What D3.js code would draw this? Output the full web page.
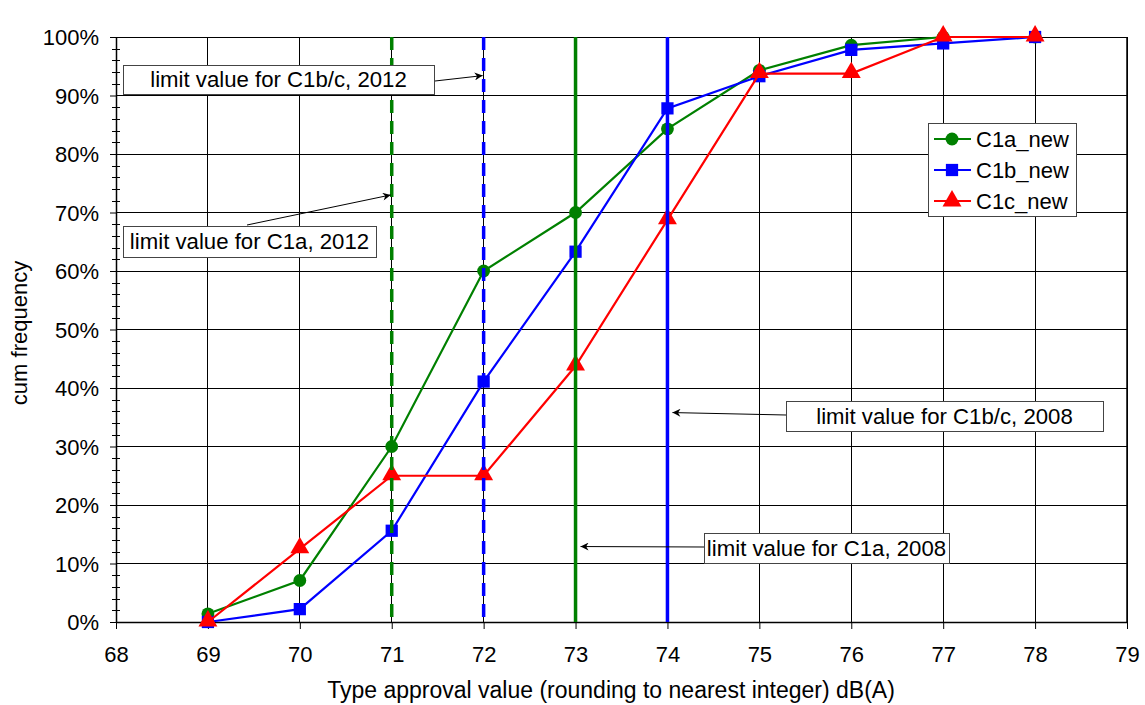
<!DOCTYPE html>
<html><head><meta charset="utf-8">
<script src="https://cdn.jsdelivr.net/npm/d3@7"></script>
<style>body{margin:0;background:#fff}svg{font-family:"Liberation Sans",Arial,sans-serif}</style>
</head><body><svg id="c" width="1145" height="705"></svg>
<script>
const xValues = [69,70,71,72,73,74,75,76,77,78];
const c1a = [1.4,7.1,30,60,70,84.3,94.3,98.6,100,100];
const c1b = [0,2.2,15.6,41.1,63.3,87.8,93.3,97.8,98.9,100];
const c1c = [0,12.5,25,25,43.75,68.75,93.75,93.75,100,100];
const seriesNames = ["C1a_new","C1b_new","C1c_new"];
const xTicks = [68,69,70,71,72,73,74,75,76,77,78,79];
const yTicks = [0,10,20,30,40,50,60,70,80,90,100];
const limitLines = [
  {x:71,color:"#008000",dash:true},
  {x:72,color:"#0000ff",dash:true},
  {x:73,color:"#008000",dash:false},
  {x:74,color:"#0000ff",dash:false}
];
const notes = [
  {text:"limit value for C1b/c, 2012", lx:72, ly:93.4, bx:123, by:65, bw:311, bh:29, ax:435, ay:81},
  {text:"limit value for C1a, 2012", lx:71, ly:73.0, bx:123, by:226, bw:253, bh:31, ax:247, ay:225},
  {text:"limit value for C1b/c, 2008", lx:74, ly:35.8, bx:786, by:401, bw:317, bh:30, ax:786, ay:415},
  {text:"limit value for C1a, 2008", lx:73, ly:12.9, bx:704, by:533, bw:245, bh:30, ax:704, ay:547}
];

const svg = d3.select("#c");
const L=116,R=1127,T=37,B=622;
const FS=22;
const x = d3.scaleLinear().domain([68,79]).range([L,R]);
const y = d3.scaleLinear().domain([0,100]).range([B,T]);

// gridlines
const g = svg.append("g").attr("shape-rendering","crispEdges");
g.selectAll(".vg").data(xTicks.slice(1)).enter().append("line")
  .attr("x1",d=>x(d)).attr("x2",d=>x(d)).attr("y1",T).attr("y2",B)
  .attr("stroke","#000").attr("stroke-width",1);
g.selectAll(".hg").data(yTicks.slice(1)).enter().append("line")
  .attr("x1",L).attr("x2",R).attr("y1",d=>y(d)).attr("y2",d=>y(d))
  .attr("stroke","#000").attr("stroke-width",1);

// axes
const xAxis = d3.axisBottom(x).tickValues(xTicks).tickSize(7).tickSizeOuter(0).tickPadding(17);
const xg = svg.append("g").attr("transform",`translate(0,${B})`).call(xAxis);
xg.select(".domain").attr("stroke","#000").attr("stroke-width",1.5);
xg.selectAll("text").attr("font-size",FS).attr("fill","#000").attr("font-family","Liberation Sans, Arial, sans-serif");

const yAxis = d3.axisLeft(y).tickValues(yTicks).tickFormat(d=>d+"%").tickSize(6).tickSizeOuter(0).tickPadding(11);
const yg = svg.append("g").attr("transform",`translate(${L},0)`).call(yAxis);
yg.select(".domain").attr("stroke","#000").attr("stroke-width",1.5);
yg.selectAll("text").attr("font-size",FS).attr("fill","#000").attr("font-family","Liberation Sans, Arial, sans-serif").attr("dy","0.36em");
// minor ticks
const minor = d3.range(0,101,2).filter(v=>v%10!==0);
svg.append("g").attr("shape-rendering","crispEdges").selectAll("line").data(minor).enter().append("line")
  .attr("x1",L-4).attr("x2",L+4).attr("y1",d=>Math.round(y(d))+0.5).attr("y2",d=>Math.round(y(d))+0.5)
  .attr("stroke","#000").attr("stroke-width",1);
// right border
svg.append("line").attr("x1",R).attr("x2",R).attr("y1",T).attr("y2",B).attr("stroke","#000").attr("stroke-width",1.5);

// series
const colors = ["#008000","#0000ff","#ff0000"];
const series = [c1a,c1b,c1c];
const line = d3.line().x((d,i)=>x(xValues[i])).y(d=>y(d));
const symTypes = [d3.symbolCircle,d3.symbolSquare,d3.symbolTriangle];
const symSizes = [130,150,155];
series.forEach((s,k)=>{
  svg.append("path").datum(s).attr("d",line).attr("fill","none").attr("stroke",colors[k]).attr("stroke-width",2.2);
  svg.append("g").selectAll("path").data(s).enter().append("path")
    .attr("d",d3.symbol().type(symTypes[k]).size(symSizes[k]))
    .attr("transform",(d,i)=>`translate(${x(xValues[i])},${y(d)+(k===2?-1:0)})`)
    .attr("fill",colors[k]);
});

// limit lines
limitLines.forEach(l=>{
  svg.append("line").attr("x1",x(l.x)).attr("x2",x(l.x)).attr("y1",T).attr("y2",B)
    .attr("stroke",l.color).attr("stroke-width",3.5)
    .attr("stroke-dasharray",l.dash?"13,8":null);
});

// annotations
svg.append("defs").append("marker").attr("id","arr").attr("viewBox","0 0 10 10")
  .attr("refX",10).attr("refY",5).attr("markerWidth",10).attr("markerHeight",8).attr("orient","auto")
  .attr("markerUnits","userSpaceOnUse")
  .append("path").attr("d","M0,0 L10,5 L0,10 L3,5 Z").attr("fill","#000");
notes.forEach(n=>{
  svg.append("line").attr("x1",n.ax).attr("y1",n.ay).attr("x2",x(n.lx)+ (n.lx>=73?5:-1)).attr("y2",y(n.ly))
    .attr("stroke","#000").attr("stroke-width",1).attr("marker-end","url(#arr)");
  svg.append("rect").attr("x",n.bx+0.5).attr("y",n.by+0.5).attr("width",n.bw).attr("height",n.bh)
    .attr("fill","#fff").attr("stroke","#444").attr("stroke-width",1);
  svg.append("text").attr("x",n.bx+n.bw/2).attr("y",n.by+n.bh/2).attr("dy","0.36em")
    .attr("text-anchor","middle").attr("font-size",22.2).attr("fill","#000").text(n.text);
});

// legend
const lg = svg.append("g");
lg.append("rect").attr("x",928.5).attr("y",123.5).attr("width",148).attr("height",93)
  .attr("fill","#fff").attr("stroke","#444").attr("stroke-width",1);
seriesNames.forEach((nm,k)=>{
  const yy = 139 + k*31;
  lg.append("line").attr("x1",934).attr("x2",971).attr("y1",yy).attr("y2",yy).attr("stroke",colors[k]).attr("stroke-width",2.2);
  lg.append("path").attr("d",d3.symbol().type(symTypes[k]).size(symSizes[k]))
    .attr("transform",`translate(952,${yy})`).attr("fill",colors[k]);
  lg.append("text").attr("x",976).attr("y",yy).attr("dy","0.36em").attr("font-size",FS).attr("fill","#000").text(nm);
});

// axis titles
svg.append("text").attr("x",611).attr("y",698).attr("text-anchor","middle").attr("font-size",23).attr("fill","#000")
  .text("Type approval value (rounding to nearest integer) dB(A)");
svg.append("text").attr("transform","translate(27,333) rotate(-90)").attr("text-anchor","middle").attr("font-size",22).attr("fill","#000")
  .text("cum frequency");
</script></body></html>
